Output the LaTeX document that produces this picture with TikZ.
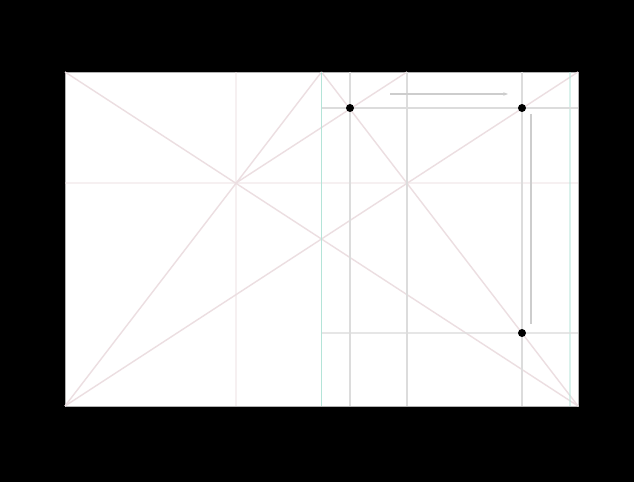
\documentclass[tikz,border=0pt]{standalone}
\usetikzlibrary{arrows.meta}
\definecolor{rosegrid}{RGB}{236,222,225}
\definecolor{greygrid}{RGB}{220,220,220}
\definecolor{tealgrid}{RGB}{180,228,216}
\definecolor{darkgrid}{RGB}{205,205,205}
\begin{document}
\begin{tikzpicture}[x=0.03cm,y=-0.03cm,
  diag/.style={rosegrid,line width=1.2pt},
  guide/.style={greygrid,line width=1.2pt},
  spine/.style={tealgrid,line width=1.2pt},
  measure/.style={darkgrid,line width=1pt}]
\fill[black] (0,0) rectangle (634,482);
% page corners and construction points
\coordinate (tl) at (65,72);
\coordinate (tr) at (578,72);
\coordinate (bl) at (65,406);
\coordinate (br) at (578,406);
\coordinate (tm) at (321.5,72);
\coordinate (bm) at (321.5,406);
\coordinate (p1) at (236,183);
\coordinate (p2) at (407,183);
\coordinate (q) at (407,72);
\coordinate (a) at (350,108);
\coordinate (b) at (522,108);
\coordinate (c) at (522,333);
\coordinate (edge) at (570,72);
\fill[white,draw=gray!60,line width=0.6pt] (tl) rectangle (br);
% faint grid through the crossings
\draw[diag,opacity=0.45] (tl |- p1) -- (tr |- p1);
\draw[diag,opacity=0.45] (p1 |- tl) -- (p1 |- bl);
% diagonals
\draw[diag] (tl) -- (br);
\draw[diag] (bl) -- (tr);
\draw[diag] (bl) -- (tm);
\draw[diag] (tm) -- (br);
\draw[diag] (q) -- (p1);
% verticals and margins
\draw[spine] (tm) -- (bm);
\draw[spine,opacity=0.5] (edge) -- (edge |- bl);
\draw[guide] (a |- tl) -- (a |- bl);
\draw[guide] (q) -- (q |- bl);
\draw[guide] (b |- tl) -- (b |- bl);
\draw[guide] (tm |- a) -- (tr |- a);
\draw[guide,opacity=0.7] (tm |- c) -- (br |- c);
% widths
\coordinate (w1) at (390,94);
\coordinate (w2) at (508,94);
\coordinate (h1) at (531,114);
\coordinate (h2) at (531,324);
\draw[measure,-{Stealth[length=4pt]}] (w1) -- (w2);
\draw[measure] (h1) -- (h2);
\fill (a) circle (3.4pt);
\fill (b) circle (3.4pt);
\fill (c) circle (3.4pt);
\end{tikzpicture}
\end{document}
